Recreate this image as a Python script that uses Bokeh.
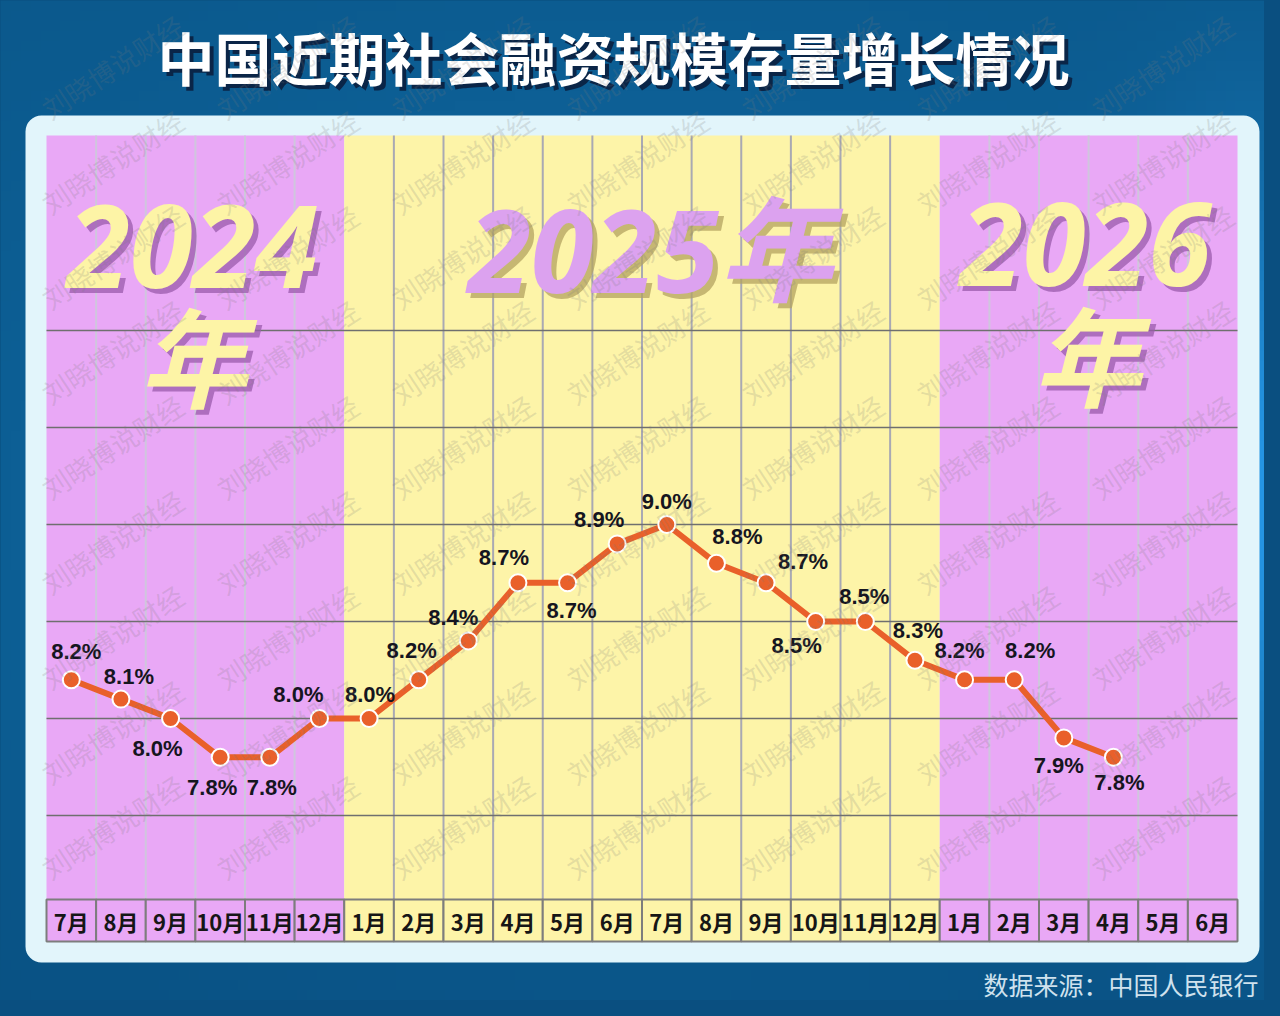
import numpy as np
from bokeh.plotting import figure
from bokeh.models import ColumnDataSource, BoxAnnotation, GlobalInlineStyleSheet
from bokeh.core.properties import value
from bokeh.embed import file_html
from bokeh.resources import INLINE

# ---------------- data ----------------
title_text = "中国近期社会融资规模存量增长情况"
months = ["7月", "8月", "9月", "10月", "11月", "12月",
          "1月", "2月", "3月", "4月", "5月", "6月", "7月", "8月", "9月", "10月", "11月", "12月",
          "1月", "2月", "3月", "4月", "5月", "6月"]
years = [2024] * 6 + [2025] * 12 + [2026] * 6
values = [8.2, 8.1, 8.0, 7.8, 7.8, 8.0,
          8.0, 8.2, 8.4, 8.7, 8.7, 8.9, 9.0, 8.8, 8.7, 8.5, 8.5, 8.3,
          8.2, 8.2, 7.9, 7.8]
value_labels = [f"{v:.1f}%" for v in values]
gridlines = [7.5, 8.0, 8.5, 9.0, 9.5, 10.0]
source_text = "数据来源：中国人民银行"
watermark_text = "刘晓博说财经"

# label placement (pixel offsets from each point, style only)
lab_dx = [5, 8, -13, -8, 2, -21, 1, -7, -15, -14, 4, -18, 0, 21, 37, -19, -1, 3, -5, 16, -5, 6]
lab_dy = [-28, -23, 30, 30, 30, -24, -24, -29, -23, -25, 28, -24, -23, -27, -21, 24, -25, -30, -29, -29, 28, 25]

# ---------------- geometry ----------------
COLW = 49.625   # px per month column
ROWH = 194.0    # px per 1 percentage point
W, H = 1264, 1000

def X(px):
    return (px - 46) / COLW

def Y(py):
    return 8 + (718 - py) / ROWH

p = figure(width=W, height=H, output_backend="svg", toolbar_location=None,
           x_range=(X(0), X(W)), y_range=(Y(H), Y(0)),
           x_axis_location=None, y_axis_location=None, min_border=0,
           background_fill_color="#0b5686", border_fill_color="#0b5686")
p.grid.visible = False
p.outline_line_color = None
p.stylesheets = [GlobalInlineStyleSheet(css="body{background:#0a4f80;}")]

# ---------------- background gradient ----------------
gh, gw = 100, 128
yy, xx = np.mgrid[0:gh, 0:gw]
fx = xx / (gw - 1)
fy = 1 - yy / (gh - 1)          # 0 = top of screen
r = np.full((gh, gw), 10.0); g = np.full((gh, gw), 86.0); b = np.full((gh, gw), 136.0)
glow = np.exp(-(((fx - 1.0) / 0.10) ** 2 + ((fy - 0.5) / 0.3) ** 2))
r += 25 * glow; g += 55 * glow; b += 80 * glow
glow2 = np.exp(-(((fx - 0.5) / 0.6) ** 2 + ((fy - 0.5) / 0.5) ** 2))
r += 6 * glow2; g += 18 * glow2; b += 26 * glow2
dark = np.clip(fy - 0.7, 0, 1)
r -= 6 * dark; g -= 25 * dark; b -= 30 * dark
img = np.empty((gh, gw), dtype=np.uint32)
view = img.view(dtype=np.uint8).reshape((gh, gw, 4))
view[:, :, 0] = np.clip(r, 0, 255)
view[:, :, 1] = np.clip(g, 0, 255)
view[:, :, 2] = np.clip(b, 0, 255)
view[:, :, 3] = 255
bg = p.image_rgba(image=[img], x=X(0), y=Y(H), dw=X(W) - X(0), dh=Y(0) - Y(H))
bg.level = "image"

# ---------------- panel ----------------
panel = BoxAnnotation(left=X(25), right=X(1259), top=Y(115), bottom=Y(962),
                      fill_color="#e2f5fb", fill_alpha=1.0, line_color=None,
                      border_radius=16, level="underlay")
p.add_layout(panel)

# ---------------- columns ----------------
PURPLE = "#e9a8f6"
YELLOW = "#fdf4a8"
idx = np.arange(len(months))
col_colors = [YELLOW if y == 2025 else PURPLE for y in years]
top_v, band_top, band_bot = Y(135), Y(899), Y(941)
p.quad(left=idx, right=idx + 1, bottom=band_bot, top=top_v,
       fill_color=col_colors, line_color=None)

# vertical grid lines (not on year boundaries)
vx, vcol = [], []
for i in range(1, len(months)):
    if years[i] != years[i - 1]:
        continue
    vx.append(i)
    vcol.append("#a9a9b3" if years[i] == 2025 else "#cfc6dd")
p.segment(x0=vx, x1=vx, y0=band_top, y1=top_v, line_color=vcol, line_width=2)

# horizontal grid lines
p.segment(x0=0, x1=len(months), y0=gridlines, y1=gridlines, line_color="#6f6f6f", line_width=1.3)

# month label band
band = ColumnDataSource(dict(x=idx + 0.5, m=months, c=col_colors))
p.rect(x="x", y=(band_top + band_bot) / 2, width=1, height=band_top - band_bot,
       fill_color="c", line_color="#7d7d7d", line_width=2, source=band)
p.text(x="x", y=(band_top + band_bot) / 2, text="m", source=band,
       text_font=value("Noto Sans CJK SC"), text_font_size="22px", text_font_style="bold",
       text_color="#161616", text_align="center", text_baseline="middle")

# ---------------- year labels ----------------
def big(txt, px, py, color, shadow, size="114px"):
    for dx, dy, c, a in [(5, 5, shadow, 0.75), (0, 0, color, 1.0)]:
        p.text(x=[X(px)], y=[Y(py)], text=[txt], x_offset=dx, y_offset=dy,
               text_font=value("Open Sans, Noto Sans CJK SC"), text_font_size=size,
               text_font_style="bold italic", text_color=c, text_alpha=a,
               text_align="center", text_baseline="middle")

big("2024", 192, 246, "#fdf4a6", "#9a5bab")
big("年", 193, 358, "#fdf4a6", "#9a5bab", size="108px")
big("2025年", 650, 248, "#dca2ef", "#b3a360")
big("2026", 1085, 244, "#fdf4a6", "#9a5bab")
big("年", 1087, 357, "#fdf4a6", "#9a5bab", size="108px")

# ---------------- series ----------------
pts = ColumnDataSource(dict(x=idx[:len(values)] + 0.5, y=values, t=value_labels,
                            dx=lab_dx, dy=lab_dy))
p.line(x="x", y="y", source=pts, line_color="#e9602a", line_width=6)
p.scatter(x="x", y="y", source=pts, size=17, fill_color="#e9602a",
          line_color="white", line_width=2)
p.text(x="x", y="y", text="t", source=pts, x_offset="dx", y_offset="dy",
       text_font=value("Liberation Sans"), text_font_size="22px", text_font_style="bold",
       text_color="#151520", text_align="center", text_baseline="middle")

# ---------------- title & source ----------------
for dx, dy, c in [(4, 4, "#0a2547"), (0, 0, "#ffffff")]:
    p.text(x=[X(613)], y=[Y(55)], text=[title_text], x_offset=dx, y_offset=dy,
           text_font=value("Noto Sans CJK SC"), text_font_size="57px", text_font_style="bold",
           text_color=c, text_align="center", text_baseline="middle")
p.text(x=[X(1258)], y=[Y(983)], text=[source_text],
       text_font=value("Noto Sans CJK SC"), text_font_size="25px",
       text_color="#cfe2ee", text_align="right", text_baseline="middle")

# ---------------- watermark ----------------
wx, wy = [], []
for k in range(0, 8):
    for j in range(0, 10):
        x0, y0 = 55 + 175 * k, 887 - 95 * j
        if x0 + 145 <= W and y0 - 95 >= 0 and y0 <= H:
            wx.append(X(x0))
            wy.append(Y(y0))
p.text(x=wx, y=wy, text=[watermark_text] * len(wx), angle=0.58,
       text_font=value("Noto Sans CJK SC"), text_font_size="27px",
       text_color="#7a7a7a", text_alpha=0.2, text_align="left", text_baseline="bottom")

open("out.html", "w").write(file_html(p, INLINE))
